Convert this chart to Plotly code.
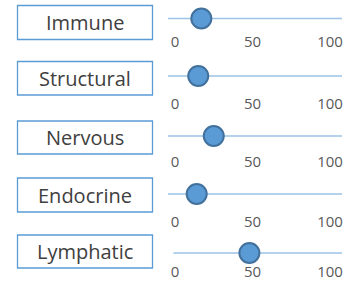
import plotly.graph_objects as go

categories = ["Immune", "Structural", "Nervous", "Endocrine", "Lymphatic"]
values = [17, 15, 25, 14, 48]
tick_vals = [0, 50, 100]
tick_text = ["0", "50", "100"]

W, H = 357, 281
# per-row pixel layout: (line y, tick axis y, box top, box bottom, track start, track end)
rows_px = [
    (18.5, 30.5, 5.5, 39.5, -4.5, 107.7),
    (76, 93, 61.5, 95, -4.5, 107.7),
    (136, 151, 121, 154, -4.5, 107.7),
    (194, 211, 178, 212, -4.5, 107.7),
    (253, 261, 235, 268, -1.0, 110.5),
]

def px(p):
    return p / W

def py(p):
    return 1 - p / H

X_DOMAIN = [px(168), px(342)]
X_RANGE = [-4.5, 107.7]

fig = go.Figure()
shapes = []
annotations = []
layout = dict(
    width=W, height=H, margin=dict(l=0, r=0, t=0, b=0),
    paper_bgcolor="white", plot_bgcolor="rgba(0,0,0,0)", showlegend=False,
)

for i, (cat, val) in enumerate(zip(categories, values)):
    n = "" if i == 0 else str(i + 1)
    ly, axis_px, bt, bb, ts, te = rows_px[i]
    top_px = max(ly - 6, 0)
    layout["xaxis" + n] = dict(
        domain=X_DOMAIN, range=X_RANGE, anchor="y" + n,
        tickvals=tick_vals, ticktext=tick_text, ticks="",
        showgrid=False, zeroline=False, showline=False,
        tickfont=dict(family="Open Sans", size=15, color="#595959"), fixedrange=True,
    )
    layout["yaxis" + n] = dict(
        domain=[py(axis_px), py(top_px)], range=[-(axis_px - ly), ly - top_px],
        anchor="x" + n, visible=False, fixedrange=True,
    )
    shapes.append(dict(type="line", xref="x" + n, yref="y" + n,
                       x0=ts, x1=te, y0=0, y1=0,
                       line=dict(color="#9dc3e6", width=1.5), layer="below"))
    shapes.append(dict(type="rect", xref="paper", yref="paper",
                       x0=px(17.5), x1=px(152.5), y0=py(bb), y1=py(bt),
                       line=dict(color="#5b9bd5", width=1.3), fillcolor="white"))
    annotations.append(dict(text=cat, xref="paper", yref="paper",
                            x=px(85), y=py((bt + bb) / 2), showarrow=False,
                            xanchor="center", yanchor="middle",
                            font=dict(family="Open Sans", size=20, color="#404040")))
    fig.add_trace(go.Scatter(
        x=[val], y=[0], xaxis="x" + n, yaxis="y" + n, mode="markers",
        marker=dict(size=20, color="#5b9bd5", line=dict(color="#41719c", width=2)),
        cliponaxis=False, hoverinfo="x",
    ))

layout["shapes"] = shapes
layout["annotations"] = annotations
fig.update_layout(**layout)
fig.write_html(
    "out.html",
    config={"displayModeBar": False},
    post_script="document.body.style.margin='0';document.documentElement.style.overflow='hidden';",
)
